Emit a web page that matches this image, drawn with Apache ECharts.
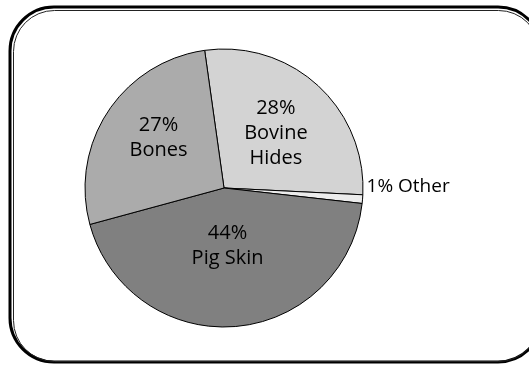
<!DOCTYPE html>
<html><head><meta charset="utf-8">
<script src="https://cdn.jsdelivr.net/npm/echarts@6/dist/echarts.min.js"></script>
<style>html,body{margin:0;padding:0;background:#fff}#c{width:529px;height:366px}</style>
</head><body><div id="c"></div>
<script>
const categories = ['Bovine\nHides', 'Other', 'Pig Skin', 'Bones'];
const values = [28, 1, 44, 27];
const colors = ['#d3d3d3', '#ececec', '#808080', '#ababab'];

const chart = echarts.init(document.getElementById('c'), null, {renderer: 'canvas'});
const FONT = '"Open Sans", "DejaVu Sans", sans-serif';
const labelShift = {'Bovine\nHides': [3, -1], 'Other': [0, -13], 'Pig Skin': [-2, -14], 'Bones': [-5, -10]};
chart.setOption({
  backgroundColor: '#ffffff',
  animation: false,
  graphic: [
    {type: 'rect', shape: {x: 10, y: 7, width: 532, height: 355, r: 44},
     style: {fill: 'none', stroke: '#000', lineWidth: 3}},
    {type: 'rect', shape: {x: 13.5, y: 10.5, width: 526, height: 351, r: 41},
     style: {fill: 'none', stroke: '#222', lineWidth: 1}}
  ],
  series: [{
    type: 'pie',
    center: [224, 188],
    radius: 139,
    startAngle: 98,
    clockwise: true,
    avoidLabelOverlap: false,
    itemStyle: {borderColor: '#000', borderWidth: 1},
    label: {
      position: 'inside',
      formatter: p => p.value + '%\n' + p.name,
      color: '#000',
      fontFamily: FONT,
      fontSize: 20,
      lineHeight: 25
    },
    labelLine: {show: false},
    labelLayout: p => {
      const s = labelShift[categories[p.dataIndex]] || [0, 0];
      return {dx: s[0], dy: s[1]};
    },
    data: categories.map((n, i) => {
      const d = {name: n, value: values[i], itemStyle: {color: colors[i]}};
      if (n === 'Other') {
        d.label = {position: 'outside', formatter: p => p.value + '% ' + p.name, distanceToLabelLine: 0, fontSize: 19};
        d.labelLine = {show: false, length: 4, length2: 0};
      }
      return d;
    })
  }]
});
</script></body></html>
